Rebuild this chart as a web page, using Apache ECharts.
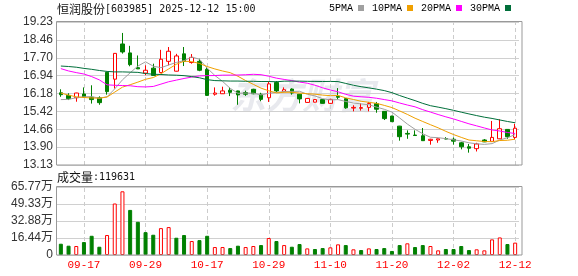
<!DOCTYPE html>
<html><head><meta charset="utf-8">
<script src="https://cdn.jsdelivr.net/npm/echarts@6/dist/echarts.min.js"></script>
<style>html,body{margin:0;padding:0;background:#fff}#c{width:578px;height:276px}</style>
</head><body><div id="c"></div>
<script>
const dates = ['09-12','09-15','09-16','09-17','09-18','09-19','09-22','09-23','09-24','09-25','09-26','09-29','09-30','10-09','10-10','10-13','10-14','10-15','10-16','10-17','10-20','10-21','10-22','10-23','10-24','10-27','10-28','10-29','10-30','10-31','11-03','11-04','11-05','11-06','11-07','11-10','11-11','11-12','11-13','11-14','11-17','11-18','11-19','11-20','11-21','11-24','11-25','11-26','11-27','11-28','12-01','12-02','12-03','12-04','12-05','12-08','12-09','12-10','12-11','12-12'];
const opens  = [16.21,16.10,16.00,16.16,16.02,16.00,17.08,16.79,18.29,17.91,17.28,17.05,17.26,17.07,17.55,17.13,17.87,17.50,17.55,17.21,16.15,16.17,16.32,16.29,16.22,16.36,16.15,16.00,16.65,16.26,16.37,16.15,15.80,15.81,15.92,15.76,16.06,15.96,15.56,15.55,15.59,15.75,15.42,15.22,14.79,14.48,14.41,14.38,14.18,14.20,14.26,14.23,14.08,13.91,13.83,14.20,14.14,14.25,14.65,14.31];
const closes = [16.13,15.96,16.20,16.03,15.92,15.79,16.26,17.89,17.95,17.41,17.23,17.17,16.95,17.64,17.98,17.78,17.55,17.72,17.17,16.10,16.20,16.29,16.23,16.12,16.15,16.17,15.93,16.59,16.29,16.34,16.20,15.95,15.97,15.92,15.76,15.93,16.02,15.57,15.59,15.58,15.75,15.51,15.11,14.98,14.34,14.45,14.39,14.17,14.23,14.25,14.24,14.15,13.91,13.85,14.03,14.12,14.31,14.68,14.34,14.70];
const lows   = [16.04,15.90,15.83,16.00,15.75,15.70,16.13,16.39,17.88,17.34,17.22,16.96,16.94,17.05,17.38,17.12,17.35,17.45,17.13,16.08,16.09,16.16,16.07,15.70,16.08,16.15,15.85,15.82,16.24,16.25,16.13,15.76,15.79,15.80,15.75,15.74,15.93,15.53,15.42,15.45,15.42,15.36,15.05,14.97,14.17,14.25,14.38,14.16,14.00,14.08,14.23,14.00,13.80,13.66,13.71,14.11,14.13,14.24,14.25,14.23];
const highs  = [16.36,16.19,16.21,16.44,16.53,16.06,17.10,17.90,18.76,18.21,17.80,17.38,17.45,18.04,18.16,17.87,18.16,17.86,17.66,17.31,16.44,16.47,16.44,16.30,16.30,16.38,16.21,16.70,16.71,16.44,16.40,16.16,15.98,15.93,15.93,15.95,16.41,15.98,15.68,15.76,15.82,15.82,15.43,15.23,14.80,14.61,14.61,14.71,14.25,14.26,14.32,14.31,14.12,14.03,14.08,14.24,15.01,15.08,14.66,14.89];
const volumes = [109000,90000,87000,125000,186000,80000,193000,498000,616000,436000,321000,221000,196000,260000,270000,167000,193000,135000,144000,186000,77000,77000,67000,90000,77000,87000,96000,164000,135000,96000,80000,106000,64000,58000,67000,74000,103000,96000,55000,48000,64000,58000,67000,39000,96000,113000,77000,96000,87000,45000,58000,58000,87000,48000,55000,45000,151000,170000,106000,119631];
const ma5Head  = [15.92,15.93,16.00,16.04];
const ma10Head = [16.20,16.11,16.04,16.01,15.99,15.98,16.03,16.24,16.45];
const ma20Head = [17.24,17.14,17.07,17.01,16.90,16.76,16.55,16.53,16.52,16.51,16.47,16.46,16.48,16.58,16.68,16.75,16.82,16.88,16.93];
const ma30Head = [17.35,17.33,17.30,17.25,17.21,17.16,17.12,17.10,17.10,17.09,17.08,17.03,17.00,16.99,16.97,16.96,16.94,16.90,16.85,16.77,16.73,16.72,16.71,16.71,16.70,16.70,16.69,16.69,16.68];
const priceTicks = ['13.13','13.90','14.66','15.42','16.18','16.94','17.70','18.46','19.23'];
const volTicks = ['0','16.44万','32.88万','49.33万','65.77万'];
const labelDates = ['09-17','09-29','10-17','10-29','11-10','11-20','12-02','12-12'];
const maNames = ['5PMA','10PMA','20PMA','30PMA'];

function ma(n, head) {
  return closes.map((c, i) => {
    if (i < n - 1) return head[i];
    let s = 0;
    for (let k = i - n + 1; k <= i; k++) s += closes[k];
    return +(s / n).toFixed(3);
  });
}
const maData = [ma(5, ma5Head), ma(10, ma10Head), ma(20, ma20Head), ma(30, ma30Head)];
const maColors = ['#a0a0a0', '#f0a000', '#ff00ff', '#006f3a'];
const RED = '#ff0000', GREEN = '#008000';

const kData = opens.map((o, i) => [o, closes[i], lows[i], highs[i]]);
const volData = volumes.map((v, i) => {
  const up = i === 0 ? closes[0] >= opens[0] : closes[i] >= closes[i - 1];
  return { value: v, itemStyle: up ? { color: '#fff', borderColor: RED, borderWidth: 1 } : { color: GREEN, borderColor: GREEN, borderWidth: 1 } };
});

const vLines = {
  silent: true, z: 1, symbol: ['none', 'none'], label: { show: false },
  lineStyle: { color: '#cccccc', type: [4, 3], width: 1 },
  emphasis: { disabled: true },
  data: labelDates.map(d => ({ xAxis: d }))
};
const richTxt = {
  a: { fontFamily: 'Noto Sans CJK SC', fontSize: 12, color: '#111', fontWeight: 'normal' },
  b: { fontFamily: 'DejaVu Sans Mono', fontSize: 10, color: '#111', fontWeight: 'normal' }
};

const chart = echarts.init(document.getElementById('c'), null, { renderer: 'canvas' });
chart.setOption({
  animation: false,
  backgroundColor: '#fff',
  title: [
    { text: '{a|恒润股份}{b|[603985] 2025-12-12 15:00}', left: 57, top: 3, padding: 0,
      textStyle: { fontWeight: 'normal', rich: richTxt } },
    { text: '{a|成交量}{b|:' + volumes[volumes.length - 1] + '}', left: 57, top: 171, padding: 0,
      textStyle: { fontWeight: 'normal', rich: richTxt } }
  ],
  legend: {
    data: maNames, right: 67, top: 3, align: 'right', icon: 'rect', itemWidth: 6, itemHeight: 6, itemGap: 8,
    selectedMode: false, padding: 0,
    textStyle: { fontFamily: 'Liberation Mono', fontSize: 10, color: '#000' }
  },
  grid: [
    { left: 57, top: 22, width: 462, height: 143 },
    { left: 57, top: 187, width: 462, height: 68 }
  ],
  xAxis: [
    { type: 'category', gridIndex: 0, data: dates, show: false },
    { type: 'category', gridIndex: 1, data: dates,
      axisLine: { show: false }, axisTick: { show: false },
      axisLabel: { interval: (i, v) => labelDates.includes(v), color: RED, fontFamily: 'Liberation Mono', fontSize: 11, margin: 5 } }
  ],
  yAxis: [
    { type: 'value', gridIndex: 0, position: 'left', min: 13.134, max: 19.226, show: false },
    { type: 'value', gridIndex: 0, position: 'left', offset: 0, min: 0, max: 8, interval: 1,
      axisLine: { show: false }, axisTick: { show: false },
      axisLabel: { formatter: v => priceTicks[v], color: '#333', fontFamily: 'Liberation Sans', fontSize: 12, margin: 4 },
      splitLine: { lineStyle: { color: '#d0d0d0', width: 1 } } },
    { type: 'value', gridIndex: 1, position: 'left', min: 0, max: 657700, interval: 164425,
      axisLine: { show: false }, axisTick: { show: false },
      axisLabel: { formatter: (v) => volTicks[Math.round(v / 164425)], color: '#333', fontFamily: 'Liberation Sans, Noto Sans CJK SC', fontSize: 12, margin: 4 },
      splitLine: { lineStyle: { color: '#d0d0d0', width: 1 } } }
  ],
  series: [
    { type: 'candlestick', xAxisIndex: 0, yAxisIndex: 0, data: kData, barWidth: 4, z: 3,
      itemStyle: { color: '#fff', color0: GREEN, borderColor: RED, borderColor0: GREEN, borderWidth: 1 },
      markLine: vLines },
    ...maNames.map((n, k) => ({
      name: n, type: 'line', xAxisIndex: 0, yAxisIndex: 0, data: maData[k], symbol: 'none', showSymbol: false, z: 4,
      lineStyle: { width: 1, color: maColors[k] }, itemStyle: { color: maColors[k] }
    })),
    { type: 'bar', xAxisIndex: 1, yAxisIndex: 2, data: volData, barWidth: 4, z: 3, markLine: vLines }
  ],
  graphic: [
    { type: 'text', z: -10, silent: true, style: { text: '东方财富', x: 230, y: 95, textVerticalAlign: 'middle', font: 'italic bold 36px "Noto Sans CJK SC"', fill: 'rgba(110,120,150,0.16)' } },
    { type: 'rect', z: 10, silent: true, shape: { x: 56.5, y: 21.5, width: 465.5, height: 143.5 }, style: { fill: 'none', stroke: '#999', lineWidth: 1 } },
    { type: 'rect', z: 10, silent: true, shape: { x: 56.5, y: 186.5, width: 465.5, height: 68.5 }, style: { fill: 'none', stroke: '#999', lineWidth: 1 } }
  ]
});
</script></body></html>
